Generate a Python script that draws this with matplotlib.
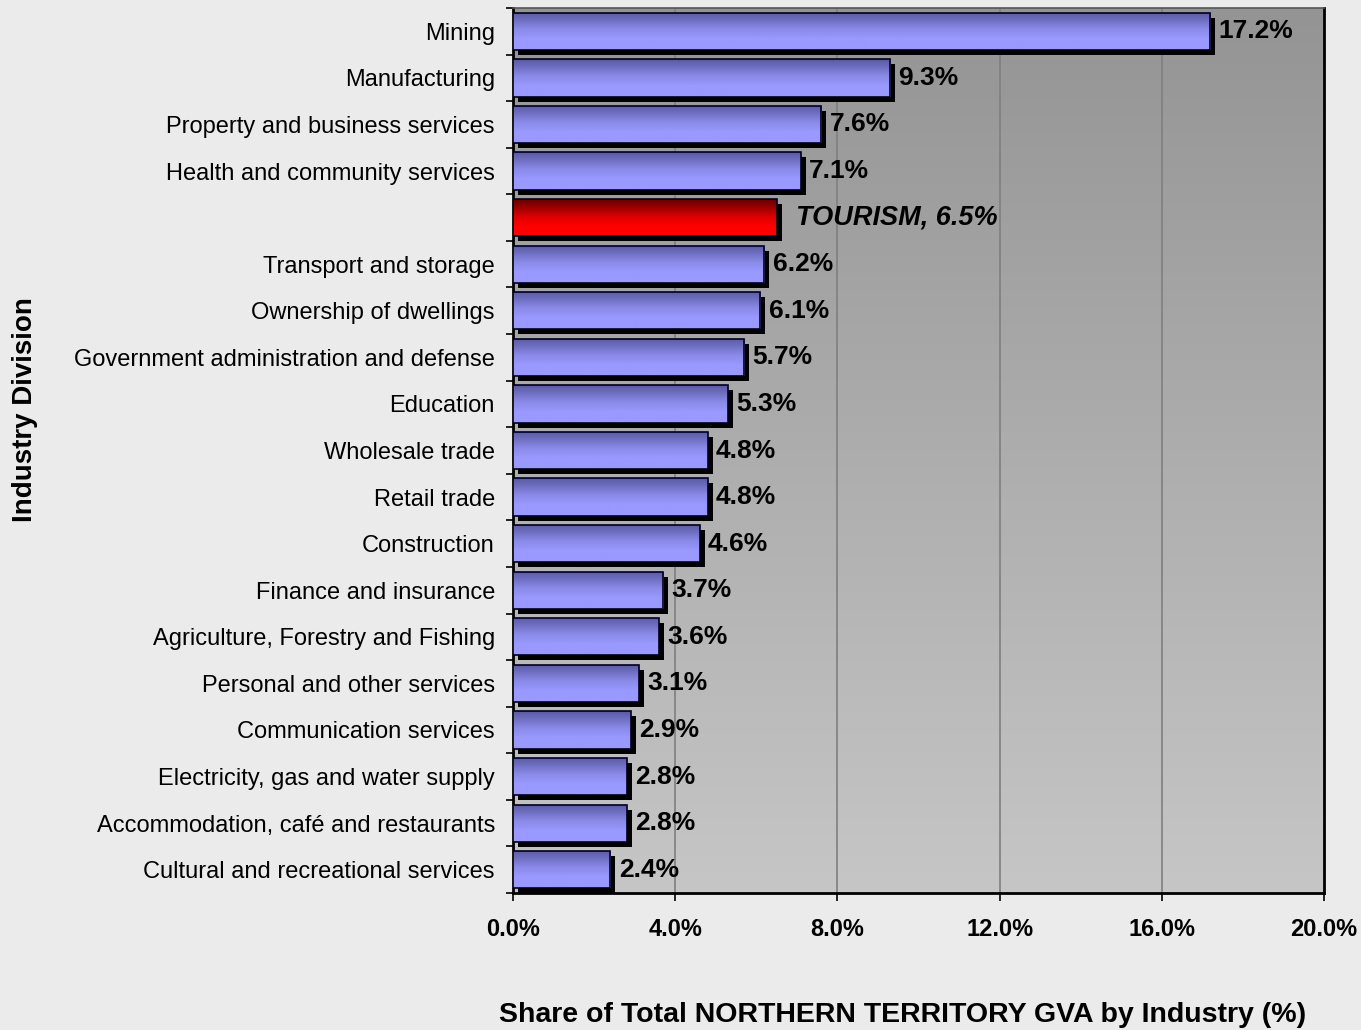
import numpy as np
import matplotlib
matplotlib.use("Agg")
import matplotlib.pyplot as plt
import matplotlib.transforms as mtransforms
from matplotlib.colors import LinearSegmentedColormap

categories = [
    "Mining", "Manufacturing", "Property and business services",
    "Health and community services", "", "Transport and storage",
    "Ownership of dwellings", "Government administration and defense",
    "Education", "Wholesale trade", "Retail trade", "Construction",
    "Finance and insurance", "Agriculture, Forestry and Fishing",
    "Personal and other services", "Communication services",
    "Electricity, gas and water supply", "Accommodation, café and restaurants",
    "Cultural and recreational services",
]
values = [17.2, 9.3, 7.6, 7.1, 6.5, 6.2, 6.1, 5.7, 5.3, 4.8, 4.8, 4.6,
          3.7, 3.6, 3.1, 2.9, 2.8, 2.8, 2.4]
highlight_index = 4
highlight_label = "TOURISM, 6.5%"
xticks = [0, 4, 8, 12, 16, 20]
xticklabels = ["0.0%", "4.0%", "8.0%", "12.0%", "16.0%", "20.0%"]

plt.rcParams['font.family'] = ['Liberation Sans', 'DejaVu Sans']

fig = plt.figure(figsize=(13.61, 10.30), dpi=100, facecolor="#ebebeb")
ax = fig.add_axes([513/1361, 1-893/1030, (1324-513)/1361, (893-8)/1030])
ax.set_xlim(0, 20)
ax.set_ylim(len(values)-0.5, -0.5)

# background gradient (dark top -> light bottom)
bg_cmap = LinearSegmentedColormap.from_list("bg", ["#949494", "#c6c6c6"])
grad = np.linspace(0, 1, 256).reshape(-1, 1)
ax.imshow(grad, aspect="auto", cmap=bg_cmap, extent=[0, 1, 0, 1],
          transform=ax.transAxes, origin="upper", zorder=0)

for xt in xticks[1:-1]:
    ax.axvline(xt, color="#7f7f7f", lw=1.2, zorder=1)

blue_cmap = LinearSegmentedColormap.from_list(
    "bl", [(0, "#5858a0"), (0.45, "#8a8ae8"), (0.7, "#9999ff"), (1, "#9999ff")])
red_cmap = LinearSegmentedColormap.from_list(
    "rd", [(0, "#5a0000"), (0.5, "#dd0000"), (0.75, "#ff0000"), (1, "#ff0000")])

shadow_tr = ax.transData + mtransforms.ScaledTranslation(5/100, -5/100, fig.dpi_scale_trans)
h = 0.8
ys = np.arange(len(values))
# shadows
ax.barh(ys, values, height=h, color="black", transform=shadow_tr, zorder=2)
bars = ax.barh(ys, values, height=h, color="none", edgecolor="#000020", lw=1.2, zorder=4)
for i, (b, v) in enumerate(zip(bars, values)):
    cm = red_cmap if i == highlight_index else blue_cmap
    im = ax.imshow(grad, aspect="auto", cmap=cm, origin="upper",
                   extent=[0, v, i + h/2, i - h/2], zorder=3)
    im.set_clip_path(b)

ax.set_xlim(0, 20)
ax.set_ylim(len(values)-0.5, -0.5)

for i, v in enumerate(values):
    if i == highlight_index:
        ax.annotate(highlight_label, (v, i), xytext=(14, 0), textcoords="offset points",
                    va="center", ha="left", fontsize=19.5, fontweight="bold",
                    fontstyle="italic", zorder=5)
    else:
        ax.annotate(f"{v:.1f}%", (v, i), xytext=(6, 0), textcoords="offset points",
                    va="center", ha="left", fontsize=19, fontweight="bold", zorder=5)

ax.set_yticks(ys)
ax.set_yticklabels(categories, fontsize=17)
ax.tick_params(axis="y", length=0, pad=13)
ax.set_yticks(np.arange(len(values)+1) - 0.5, minor=True)
ax.tick_params(axis="y", which="minor", length=5, width=1.2, direction="out")
ax.set_xticks(xticks)
ax.set_xticklabels(xticklabels, fontsize=17, fontweight="bold")
ax.tick_params(axis="x", length=6, width=1.2, direction="out", pad=12)

for s in ["left", "bottom", "right"]:
    ax.spines[s].set_linewidth(2)
    ax.spines[s].set_color("black")
ax.spines["top"].set_linewidth(1.2)
ax.spines["top"].set_color("#555555")

fig.text(903/1361, 1-1015/1030, "Share of Total NORTHERN TERRITORY GVA by Industry (%)",
         ha="center", va="center", fontsize=20.5, fontweight="bold")
fig.text(25/1361, 1-410/1030, "Industry Division", rotation=90, ha="center",
         va="center", fontsize=20, fontweight="bold")

fig.savefig("out.png", dpi=100, facecolor=fig.get_facecolor())
